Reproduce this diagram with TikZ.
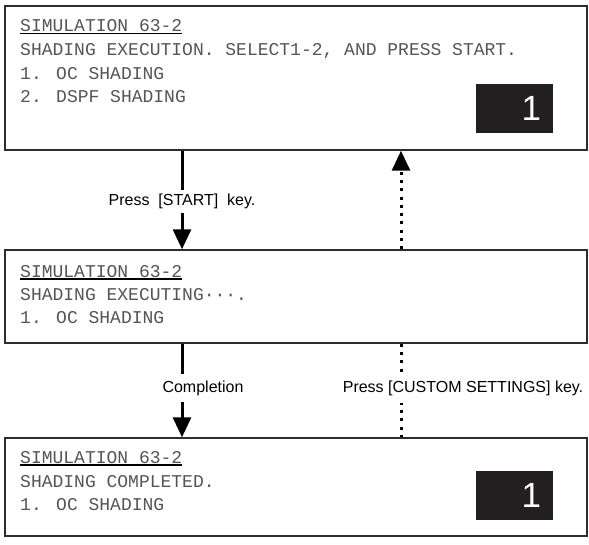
\documentclass[tikz,border=0pt]{standalone}
\usepackage{fontspec}
\setmainfont{Liberation Sans}
\newfontfamily\lcdfont{Liberation Mono}
\usetikzlibrary{arrows.meta}
\definecolor{lcdtext}{RGB}{85,85,85}
\definecolor{frame}{RGB}{45,45,45}
\definecolor{badge}{RGB}{35,31,32}

\begin{document}
\begin{tikzpicture}[x=1pt,y=-1pt,
  screen/.style={draw=frame, line width=1.4pt, minimum width=582pt, inner sep=0pt},
  lcd/.style={anchor=base west, inner sep=0pt, text=lcdtext, font=\lcdfont\fontsize{18}{18}\selectfont},
  counter/.style={fill=badge, text=white, minimum width=77pt, minimum height=49pt, text width=53pt,
    align=right, inner xsep=12pt, inner ysep=0pt, font=\fontsize{35}{35}\selectfont},
  keylabel/.style={fill=white, inner xsep=2pt, font=\fontsize{16}{16}\selectfont},
  flow/.style={line width=3pt, -{Triangle[length=20pt,width=18pt]}},
  dots/.style={line width=3pt, dash pattern=on 3pt off 5.3pt}]
\path[use as bounding box, fill=white] (0,0) rectangle (589,544);

\node[screen, minimum height=144pt] (select) at (296,78) {};
\node[screen, minimum height=93pt] (running) at (296,296.5) {};
\node[screen, minimum height=98pt] (finished) at (296,487) {};

\node[lcd] (s1) at (20,31.5) {SIMULATION 63-2};
\node[lcd] (s2) at (20,55.5) {SHADING EXECUTION. SELECT1-2, AND PRESS START.};
\node[lcd] (s3) at (20,79.5) {1. OC SHADING};
\node[lcd] (s4) at (20,102.5) {2. DSPF SHADING};
\node[counter] (n1) at (514.5,108.5) {1};

\node[lcd] (r1) at (20,277) {SIMULATION 63-2};
\node[lcd] (r2) at (20,300) {SHADING EXECUTING···.};
\node[lcd] (r3) at (20,323) {1. OC SHADING};

\node[lcd] (f1) at (20,463) {SIMULATION 63-2};
\node[lcd] (f2) at (20,487) {SHADING COMPLETED.};
\node[lcd] (f3) at (20,510) {1. OC SHADING};
\node[counter] (n3) at (514.5,495) {1};

\foreach \t in {s1,r1,f1}
  \draw[line width=1.2pt] ([yshift=-2pt]\t.base west) -- ([yshift=-2pt]\t.base east);

\coordinate (go) at (182,0);
\coordinate (back) at (401,0);
\draw[flow] (select.south -| go) -- node[keylabel, yshift=-1.5pt, inner ysep=4pt] (k1) {Press\ \ [START]\ \ key.} (running.north -| go);
\draw[flow] (running.south -| go) -- node[keylabel, xshift=21pt, yshift=2.5pt, inner ysep=7pt] (k2) {Completion} (finished.north -| go);
\draw[dots, -{Triangle[length=20pt,width=18pt]}] (running.north -| back) -- (select.south -| back);
\draw[dots] (running.south -| back) -- node[keylabel, xshift=62pt, yshift=2.5pt, inner ysep=8pt] (k3) {Press [CUSTOM SETTINGS] key.} (finished.north -| back);
\end{tikzpicture}
\end{document}
